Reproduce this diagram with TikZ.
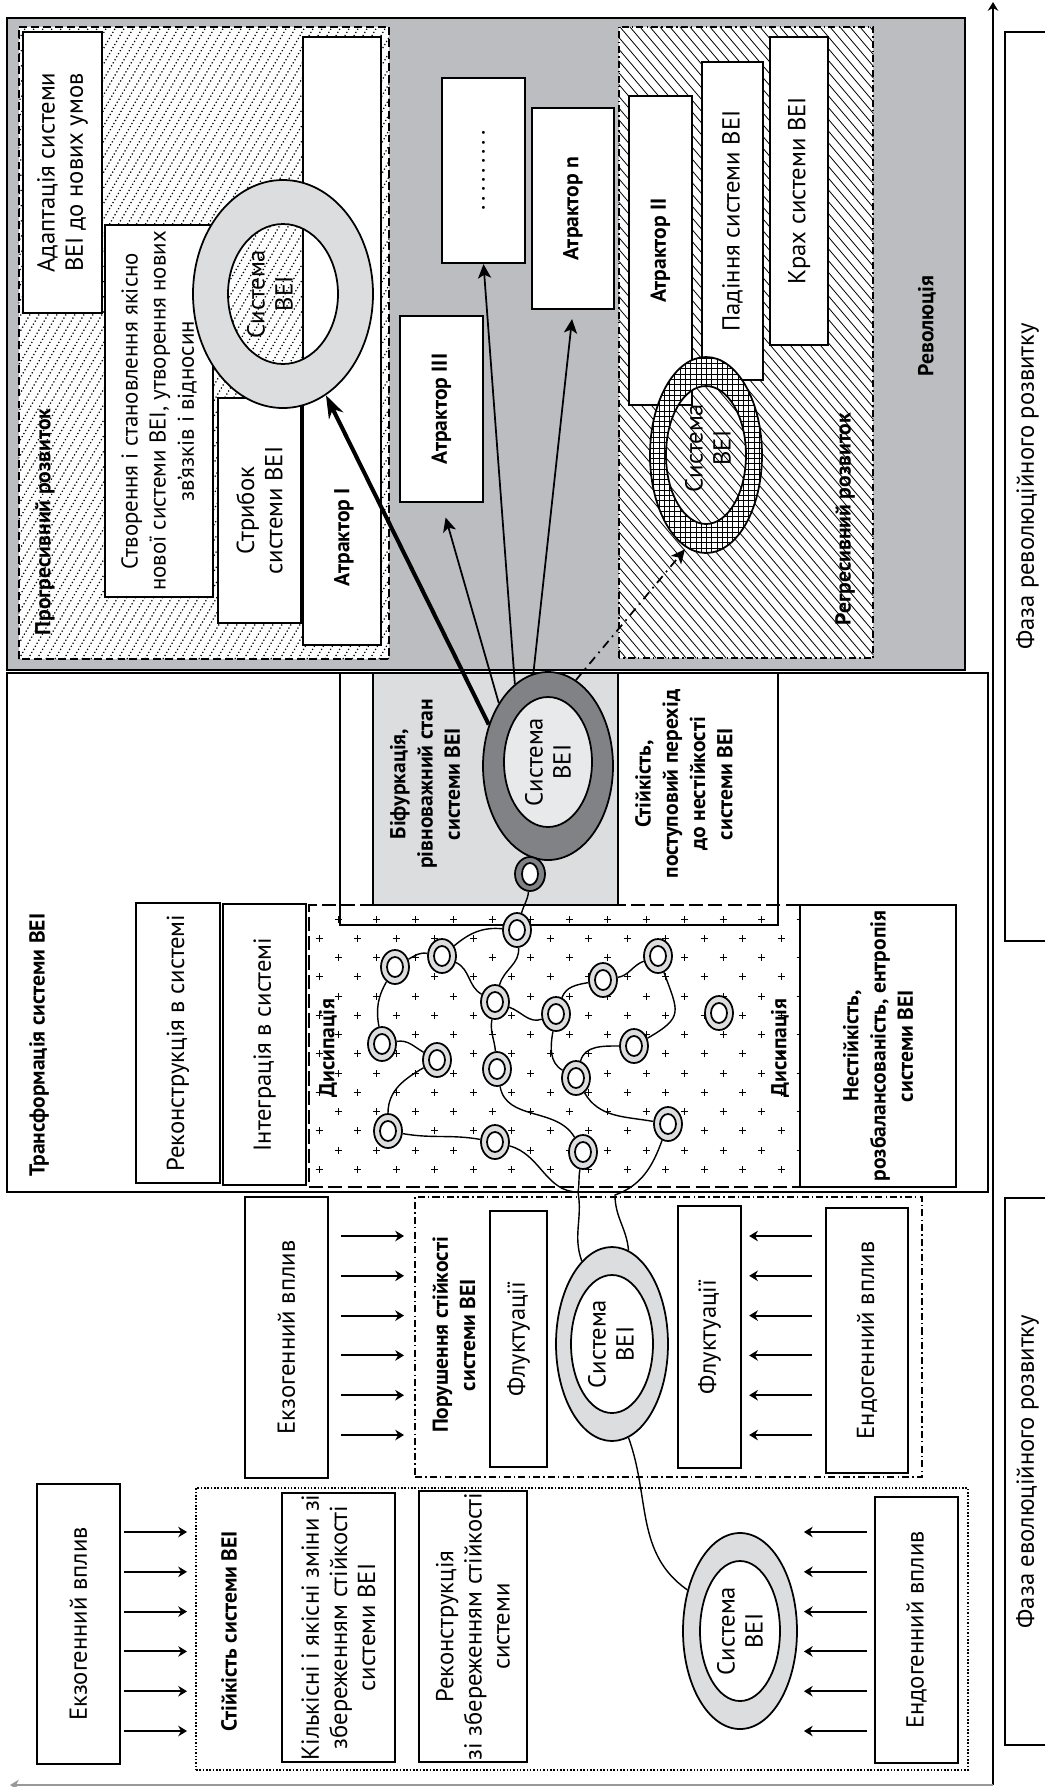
\documentclass[tikz,border=0pt]{standalone}
\usepackage{fontspec}
\setmainfont{PT Sans}
\usetikzlibrary{shapes.geometric, arrows.meta, patterns}

\definecolor{revgray}{RGB}{188,189,192}
\definecolor{bifgray}{RGB}{220,221,223}
\definecolor{darkring}{RGB}{128,130,133}
\definecolor{ringgray}{RGB}{220,221,223}
\definecolor{coregray}{RGB}{232,233,234}

\begin{document}
\begin{tikzpicture}[x=0.2mm, y=0.2mm,
  >={Stealth[length=5pt, width=6pt]},
  sz/.style 2 args={minimum width=#1*0.2mm, minimum height=#2*0.2mm},
  txt/.style={font=\fontsize{14}{16}\selectfont},
  btxt/.style={font=\bfseries\fontsize{12.3}{15.5}\selectfont},
  lbl/.style={rotate=90, align=center, inner sep=0, btxt},
  rtxt/.style={rotate=90, align=center, inner sep=0, txt},
  box/.style={draw, line width=1.3pt, fill=white, rotate=90, inner sep=1pt, align=center, txt},
  region/.style={draw, line width=1pt, inner sep=0},
  ring/.style 2 args={ellipse, draw, line width=1pt, inner sep=0, minimum width=#1*0.4mm, minimum height=#2*0.4mm},
  dring/.style={ring={14}{17}, fill=ringgray},
  dcore/.style={ring={8}{10}, fill=white},
  link/.style={line width=0.8pt},
  infl/.style={->, line width=1.1pt},
  attr/.style={-{Stealth[length=8pt, width=7.5pt, inset=2pt]}, line width=1pt},
  dashdot/.style={dash pattern=on 4pt off 1.8pt on 0.8pt off 1.8pt}
]
\useasboundingbox (0,0) rectangle (1045,-1787);
\clip (0,0) rectangle (1045,-1787);

% revolution
\node[region, line width=1.5pt, fill=revgray, sz={958}{652}] (rev) at (486,-344) {};
\node[inner sep=0, fill=white, sz={370}{632}] (prog) at (204,-343) {};
\begin{scope}
  \clip (prog.south west) rectangle (prog.north east);
  \foreach \t in {-350,-341,...,390}
    \draw[line width=0.7pt, dash pattern=on 0.7pt off 1.3pt] (\t,-659) -- ++(367,632);
\end{scope}
\draw[line width=1.1pt, dash pattern=on 4.5pt off 2.3pt] (prog.south west) rectangle (prog.north east);
\node[inner sep=0, fill=white, sz={254}{631}] (regr) at (746,-342.5) {};
\begin{scope}
  \clip (regr.south west) rectangle (regr.north east);
  \foreach \t in {80,90,...,880}
    \draw[line width=0.45pt] (\t,-27) -- ++(536,-631);
\end{scope}
\draw[line width=1.1pt, dashdot] (regr.south west) rectangle (regr.north east);

% transformation
\node[region, sz={981}{519}] (transf) at (497.5,-932.5) {};
\node[region, sz={438}{252}] (stabtr) at (559,-799) {};
\node[region, line width=0.8pt, fill=bifgray, sz={245}{232}] (bifbox) at (495.5,-789) {};
\node[region, line width=1.1pt, dash pattern=on 8pt off 3pt, sz={491}{282}] (diss) at (554.5,-1046) {};
\foreach \a in {0,...,12} \foreach \b in {0,...,6} {
  \draw[line width=0.4pt] (338+38.5*\a,-919-38.5*\b) +(-3.5,0) -- +(3.5,0) +(0,-3.5) -- +(0,3.5);
  \draw[line width=0.4pt] (319+38.5*\a,-938.25-38.5*\b) +(-3.5,0) -- +(3.5,0) +(0,-3.5) -- +(0,3.5);
}

% evolution
\node[region, line width=1.1pt, dashdot, sz={507}{280}] (viol) at (668.5,-1337) {};
\node[region, line width=1.1pt, dash pattern=on 0.9pt off 1pt, sz={772}{282}] (stab) at (582,-1629) {};

% phases and time axis
\node[box, line width=1pt, sz={909}{45}] (phaserev) at (1027.5,-486.5) {Фаза революційного розвитку};
\node[box, line width=1pt, sz={547}{45}] (phaseevo) at (1027.5,-1471.5) {Фаза еволюційного розвитку};
\coordinate (origin) at (993,-1785);
\coordinate (timeend) at (993,-2);
\coordinate (leftend) at (10,-1785);
\draw[->, line width=0.9pt] (origin) -- (timeend);
\draw[->, line width=0.6pt, black!40] (origin) -- (leftend);

% boxes of the revolution
\node[box, sz={281}{79}] (adapt) at (62.5,-172.5) {Адаптація системи\\ВЕІ до нових умов};
\node[box, sz={372}{108}, font=\fontsize{13}{16}\selectfont] (create) at (159,-411) {Створення і становлення якісно\\нової системи ВЕІ, утворення нових\\зв’язків і відносин};
\node[box, sz={225}{83}] (jump) at (259.5,-510.5) {Стрибок\\системи ВЕІ};
\node[box, sz={608}{78}] (att1) at (342,-341) {};
\node[box, sz={186}{83}, btxt] (att3) at (441.5,-409) {Атрактор ІІІ};
\node[box, sz={185}{83}] (dots) at (483.5,-170.5) {.\,.\,.\,.\,.\,.\,.\,.\,.};
\node[box, sz={201}{82}, btxt] (attn) at (573,-208.5) {Атрактор n};
\node[box, sz={309}{63}, btxt] (att2) at (660.5,-250.5) {Атрактор ІІ};
\node[box, sz={318}{61}] (fall) at (732.5,-221) {Падіння системи ВЕІ};
\node[box, sz={308}{58}] (crash) at (799,-191) {Крах системи ВЕІ};

% boxes of the transformation
\node[box, sz={280}{84}] (recon) at (178,-1043) {Реконструкція в системі};
\node[box, sz={281}{83}] (integ) at (264.5,-1044.5) {Інтеграція в системі};
\node[box, sz={282}{156}, btxt] (instab) at (878,-1046) {Нестійкість,\\розбалансованість, ентропія\\системи ВЕІ};

% boxes of the evolution
\node[box, sz={281}{83}] (exo2) at (286.5,-1337.5) {Екзогенний вплив};
\node[box, sz={256}{57}] (fluct1) at (518.5,-1339) {Флуктуації};
\node[box, sz={262}{63}] (fluct2) at (709.5,-1337) {Флуктуації};
\node[box, sz={265}{82}] (endo2) at (867,-1340.5) {Ендогенний вплив};
\node[box, sz={280}{83}] (exo1) at (78.5,-1624) {Екзогенний вплив};
\node[box, sz={259}{113}] (qual) at (338.5,-1627.5) {Кількісні і якісні зміни зі\\збереженням стійкості\\системи ВЕІ};
\node[box, sz={257}{108}] (recon2) at (473,-1626.5) {Реконструкція\\зі збереженням стійкості\\системи};
\node[box, sz={266}{83}] (endo1) at (916.5,-1630) {Ендогенний вплив};

% rings
\fill[ringgray, even odd rule] (283,-294) ellipse [x radius=90*0.2mm, y radius=114*0.2mm]
  (283,-294) ellipse [x radius=55*0.2mm, y radius=70*0.2mm];
\node[ring={90}{114}] (ringP) at (283,-294) {};
\node[ring={55}{70}] (ringP-in) at (283,-294) {};
\node[rtxt] (ringP-txt) at (270,-294) {Система\\ВЕІ};

\fill[white, even odd rule] (706,-455) ellipse [x radius=56*0.2mm, y radius=98*0.2mm]
  (706,-455) ellipse [x radius=40*0.2mm, y radius=69*0.2mm];
\fill[pattern=grid, even odd rule] (706,-455) ellipse [x radius=56*0.2mm, y radius=98*0.2mm]
  (706,-455) ellipse [x radius=40*0.2mm, y radius=69*0.2mm];
\node[ring={56}{98}] (ringR) at (706,-455) {};
\node[ring={40}{69}] (ringR-in) at (706,-455) {};
\node[rtxt] (ringR-txt) at (708,-448) {Система\\ВЕІ};

\node[ring={65}{94}, fill=darkring] (bifring) at (548,-766) {};
\node[ring={44}{65}, fill=coregray] (bifring-in) at (548,-762) {};
\node[rtxt] (bifring-txt) at (548,-762) {Система\\ВЕІ};
\node[ring={15}{17}, fill=darkring] (s0) at (530,-874) {};
\node[ring={8}{11}, fill=white] (s0-in) at (530,-874) {};

\foreach \n/\x/\y in {d1/517/930, d2/442/956, d3/395/967, d4/495/1002, d5/556/1014,
    d6/603/980, d7/658/956, d8/382/1044, d9/437/1060, d10/497/1069, d11/576/1078,
    d12/634/1046, d13/388/1131, d14/495/1142, d15/583/1152, d16/668/1124, d17/719/1013} {
  \node[dring] (\n) at (\x,-\y) {};
  \node[dcore] (\n-in) at (\x,-\y) {};
}

\node[ring={56}{97}, fill=ringgray] (pr) at (612,-1344) {};
\node[ring={41}{69}, fill=white] (pr-in) at (612,-1344) {};
\node[rtxt] (pr-txt) at (611,-1344) {Система\\ВЕІ};
\node[ring={57}{98}, fill=ringgray] (br) at (740,-1631) {};
\node[ring={40}{70}, fill=white] (br-in) at (740,-1631) {};
\node[rtxt] (br-txt) at (740,-1631) {Система\\ВЕІ};

% links between the systems
\coordinate (j1) at (578,-1192);
\coordinate (j2) at (615,-1195);
\draw[link] (s0) to[out=-95,in=75] (d1);
\draw[link] (d1) to[out=175,in=40] (d2);
\draw[link] (d2) to[out=170,in=30] (d3);
\draw[link] (d3) to[out=-120,in=100] (d8);
\draw[link] (d2) to[out=-25,in=150] (d4);
\draw[link] (d1) to[out=-85,in=75] (d4);
\draw[link] (d4) to[out=-20,in=200] (d5);
\draw[link] (d4) to[out=-100,in=95] (d10);
\draw[link] (d5) to[out=70,in=190] (d6);
\draw[link] (d6) to[out=10,in=200] (d7);
\draw[link] (d7) to[out=-70,in=30,looseness=1.6] (d12);
\draw[link] (d5) to[out=-100,in=150] (d11);
\draw[link] (d11) to[out=75,in=180] (d12);
\draw[link] (d8) to[out=10,in=150] (d9);
\draw[link] (d9) to[out=-150,in=90] (d13);
\draw[link] (d13) to[out=-10,in=170] (d14);
\draw[link] (d10) to[out=-80,in=120] (d15);
\draw[link] (d11) to[out=-60,in=170] (d16);
\draw[link] (d14) to[out=-15,in=180] (j1);
\draw[link] (d15) to[out=-100,in=80] (j1);
\draw[link] (j1) to[out=-80,in=110] (pr.110);
\draw[link] (d16) to[out=-110,in=20] (j2) to[out=-90,in=95] (pr.80);
\draw[link] (pr.-80) to[out=-70,in=145] (br.142);

% attractor arrows
\draw[line width=2.3pt, -{Stealth[length=13pt, width=9pt]}] (bifring.145) -- (ringP.-67);
\draw[attr, shorten >=3mm] (bifring.128) -- (att3.west);
\draw[attr] (bifring.112) -- (dots.west);
\draw[attr, shorten >=1.8mm] (bifring.99) -- (attn.west);
\draw[attr, dash pattern=on 5pt off 3pt on 1pt off 3pt, shorten >=0.4mm] (bifring.72) -- (ringR.258);

% influences
\foreach \k [evaluate=\k as \ya using -1532-39.8*\k, evaluate=\k as \yb using -1236-39.8*\k] in {0,...,5} {
  \draw[infl, shorten <=0.6mm, shorten >=1.6mm] (exo1.south |- 0,\ya) -- (stab.west |- 0,\ya);
  \draw[infl, shorten <=1.4mm, shorten >=1.2mm] (endo1.north |- 0,\ya) -- (br.east |- 0,\ya);
  \draw[infl, shorten <=2.4mm, shorten >=2mm] (exo2.south |- 0,\yb) -- (viol.west |- 0,\yb);
  \draw[infl, shorten <=2.6mm, shorten >=1.4mm] (endo2.north |- 0,\yb) -- (fluct2.south |- 0,\yb);
}

% labels
\node[lbl] (proglbl) at (45,-522) {Прогресивний розвиток};
\node[lbl] (regrlbl) at (845,-519) {Регресивний розвиток};
\node[lbl] (revlbl) at (927,-326) {Революція};
\node[lbl] (att1lbl) at (344,-537) {Атрактор І};
\node[lbl] (transflbl) at (39,-1045) {Трансформація системи ВЕІ};
\node[lbl] (biflbl) at (425,-784) {Біфуркація,\\рівноважний стан\\системи ВЕІ};
\node[lbl] (stabtrlbl) at (684,-784) {Стійкість,\\поступовий перехід\\до нестійкості\\системи ВЕІ};
\node[lbl] (disslbl1) at (328,-1048) {Дисипація};
\node[lbl] (disslbl2) at (780,-1048) {Дисипація};
\node[lbl] (viollbl) at (454,-1335) {Порушення стійкості\\системи ВЕІ};
\node[lbl] (stablbl) at (229,-1631) {Стійкість системи ВЕІ};
\end{tikzpicture}
\end{document}
